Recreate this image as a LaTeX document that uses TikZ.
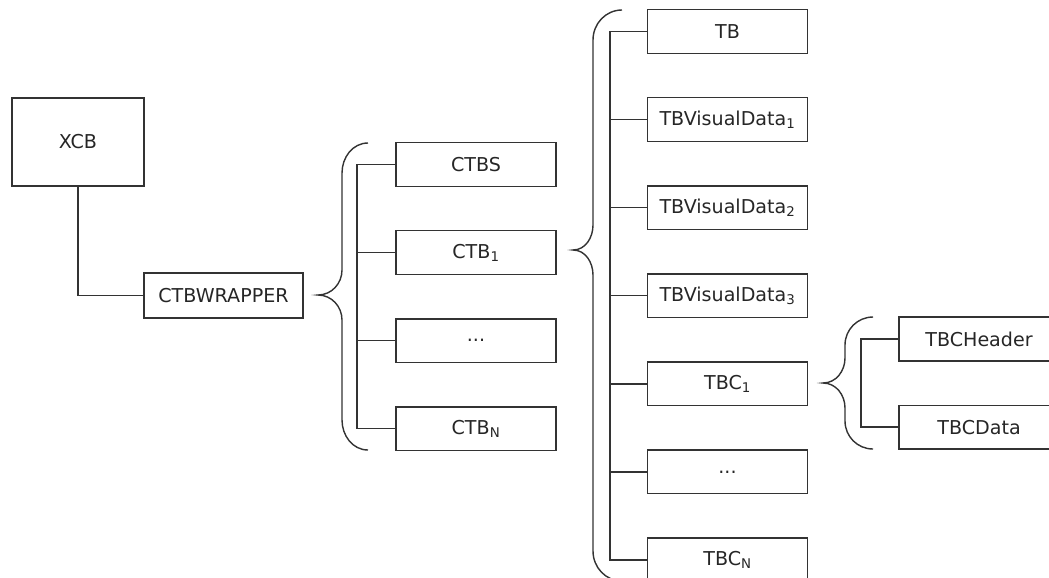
\documentclass[tikz,border=0pt]{standalone}
\usepackage{fontspec}
\setmainfont{DejaVu Sans}
\usetikzlibrary{positioning}
\tikzset{
  blk/.style={draw=black!80, line width=1.2pt, text=black!85, minimum width=4.8cm,
    minimum height=1.31cm, inner sep=0pt, font=\fontsize{16.3}{19}\selectfont},
  wire/.style={draw=black!80, line width=1.2pt},
}
\begin{document}
\begin{tikzpicture}[x=0.03cm, y=-0.03cm, node distance=1.29cm]
  \useasboundingbox (0,0) rectangle (1049,577);

  \node [blk,minimum width=3.96cm,minimum height=2.64cm] (xcb) at (78,142) {XCB};
  \node [blk,minimum width=4.77cm,minimum height=1.35cm] (wrap) at (223.5,295.5) {CTBWRAPPER};

  \node [blk] (ctbs) at (476,164.5) {CTBS};
  \node [blk,below=of ctbs] (ctb1) {CTB\textsubscript{1}};
  \node [blk,below=of ctb1] (ctbdots) {...};
  \node [blk,below=of ctbdots] (ctbn) {CTB\textsubscript{N}};

  \node [blk] (tb) at (727.5,31.5) {TB};
  \node [blk,below=of tb] (vd1) {TBVisualData\textsubscript{1}};
  \node [blk,below=of vd1] (vd2) {TBVisualData\textsubscript{2}};
  \node [blk,below=of vd2] (vd3) {TBVisualData\textsubscript{3}};
  \node [blk,below=of vd3] (tbc1) {TBC\textsubscript{1}};
  \node [blk,below=of tbc1] (tbcdots) {...};
  \node [blk,below=of tbcdots] (tbcn) {TBC\textsubscript{N}};

  \node [blk] (hdr) at (979,339) {TBCHeader};
  \node [blk,below=of hdr] (dat) {TBCData};

  \coordinate (bus1) at (357,0);
  \coordinate (bus2) at (610,0);
  \coordinate (bus3) at (861,0);

  \draw[wire] (xcb.south) |- (wrap.west);

  % trees
  \draw[wire] (ctbs.west) -| (bus1 |- ctbn.west) -- (ctbn.west);
  \foreach \n in {ctb1,ctbdots}
    \draw[wire] (\n.west) -- (\n.west -| bus1);
  \draw[wire] (tb.west) -| (bus2 |- tbcn.west) -- (tbcn.west);
  \foreach \n in {vd1,vd2,vd3,tbc1,tbcdots}
    \draw[wire] (\n.west) -- (\n.west -| bus2);
  \draw[wire] (hdr.west) -| (bus3 |- dat.west) -- (dat.west);

  % braces
  \draw[wire] (368,143) to[out=180,in=90] (342,173) -- (342,270) to[out=270,in=0] (318,295)
    to[out=0,in=90] (342,320) -- (342,420) to[out=270,in=180] (368,450);
  \draw[wire] (622,10) to[out=180,in=90] (593,40) -- (593,225) to[out=270,in=0] (573,250)
    to[out=0,in=90] (593,275) -- (593,551) to[out=270,in=180] (622,581);
  \draw[wire] (873,317) to[out=180,in=90] (845,345) -- (845,358) to[out=270,in=0] (823,383)
    to[out=0,in=90] (845,408) -- (845,421) to[out=270,in=180] (873,449);
\end{tikzpicture}
\end{document}
